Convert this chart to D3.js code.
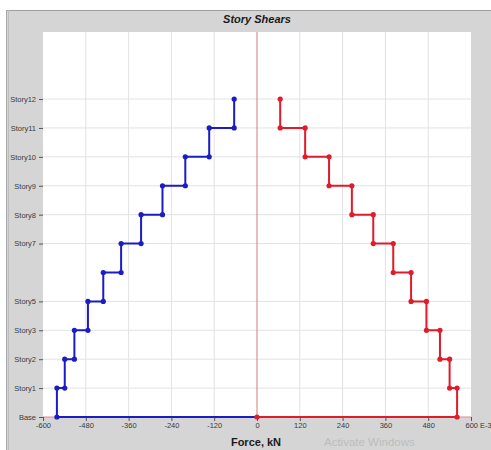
<!DOCTYPE html>
<html>
<head>
<meta charset="utf-8">
<script src="https://cdn.jsdelivr.net/npm/d3@7"></script>
<style>
  html, body { margin: 0; padding: 0; background: #ffffff; }
  svg { display: block; font-family: "Liberation Sans", Arial, sans-serif; }
</style>
</head>
<body>
<svg id="chart" width="491" height="450"></svg>
<script>
// ---- data ----
const storyNames = ["Base","Story1","Story2","Story3","Story5","Story6","Story7","Story8","Story9","Story10","Story11","Story12"];
const storyLevels = [0,1,2,3,4,5,6,7,8,9,10,11];
const yTickLabels = ["Base","Story1","Story2","Story3","Story5","Story7","Story8","Story9","Story10","Story11","Story12"];
// shear of each story (Story1 .. Story12), kN
const shearNeg = [-561,-539,-512,-474,-431,-381,-325,-265,-201,-134,-64];
const shearPos = [561,540,513,475,432,382,326,266,202,135,65];
const xTicks = [-600,-480,-360,-240,-120,0,120,240,360,480,600];
const xDomain = [-600, 600];
const yDomain = [0, 13.32];

const svg = d3.select("#chart");
const L = 43, R = 471, T = 32, B = 417;

// panel
svg.append("rect").attr("x", 6).attr("y", 10).attr("width", 485).attr("height", 440).attr("fill", "#d5d5d5");
svg.append("line").attr("x1", 6).attr("x2", 491).attr("y1", 10.5).attr("y2", 10.5).attr("stroke", "#9e9e9e");
svg.append("line").attr("x1", 6.5).attr("x2", 6.5).attr("y1", 10).attr("y2", 450).attr("stroke", "#a8a8a8");
svg.append("line").attr("x1", 8.5).attr("x2", 8.5).attr("y1", 10).attr("y2", 450).attr("stroke", "#bdbdbd");

svg.append("rect").attr("x", L).attr("y", T).attr("width", R - L).attr("height", B - T).attr("fill", "#ffffff");

const x = d3.scaleLinear().domain(xDomain).range([L, R]);
const y = d3.scaleLinear().domain(yDomain).range([B, T]);

const tickLevels = yTickLabels.map(n => storyLevels[storyNames.indexOf(n)]);

// grid
svg.append("g").selectAll("line.vg").data(xTicks.filter(d => d !== 0 && d !== 600 && d !== -600)).join("line")
  .attr("x1", d => x(d)).attr("x2", d => x(d)).attr("y1", T).attr("y2", B)
  .attr("stroke", "#e2e2e2").attr("stroke-width", 1);
svg.append("g").selectAll("line.hg").data(tickLevels.filter(d => d !== 0)).join("line")
  .attr("x1", L).attr("x2", R).attr("y1", d => y(d)).attr("y2", d => y(d))
  .attr("stroke", "#e2e2e2").attr("stroke-width", 1);

// zero lines
svg.append("line").attr("x1", x(0)).attr("x2", x(0)).attr("y1", T).attr("y2", B)
  .attr("stroke", "#d27a7a").attr("stroke-width", 1);
svg.append("line").attr("x1", L).attr("x2", R).attr("y1", y(0)).attr("y2", y(0))
  .attr("stroke", "#e08a8a").attr("stroke-width", 1);

// axes
const xAxis = d3.axisBottom(x).tickValues(xTicks).tickSize(4).tickPadding(2)
  .tickFormat(d => d === 600 ? "600 E-3" : String(d));
const gx = svg.append("g").attr("transform", `translate(0,${B})`).call(xAxis);
gx.select(".domain").remove();
gx.selectAll(".tick line").attr("stroke", "#555");
gx.selectAll(".tick text").attr("fill", "#3a3a3a").attr("font-size", 7.5);
gx.selectAll(".tick text").filter(d => d === 600).attr("text-anchor", "start").attr("dx", -6);

const yAxis = d3.axisLeft(y).tickValues(tickLevels).tickSize(4).tickPadding(3)
  .tickFormat(d => storyNames[storyLevels.indexOf(d)]);
const gy = svg.append("g").attr("transform", `translate(${L},0)`).call(yAxis);
gy.select(".domain").remove();
gy.selectAll(".tick line").attr("stroke", "#555");
gy.selectAll(".tick text").attr("fill", "#3a3a3a").attr("font-size", 7.5);

// step series
function stepPoints(vals) {
  const pts = [[0, storyLevels[0]]];
  vals.forEach((v, i) => {
    pts.push([v, storyLevels[i]]);
    pts.push([v, storyLevels[i + 1]]);
  });
  return pts;
}
const line = d3.line().x(d => x(d[0])).y(d => y(d[1]));

function drawSeries(vals, color, withOrigin) {
  const pts = stepPoints(vals);
  svg.append("path").datum(pts).attr("d", line).attr("fill", "none")
    .attr("stroke", color).attr("stroke-width", 2);
  const dots = withOrigin ? pts : pts.slice(1);
  svg.append("g").selectAll("circle").data(dots).join("circle")
    .attr("cx", d => x(d[0])).attr("cy", d => y(d[1])).attr("r", 2.6).attr("fill", color);
}
drawSeries(shearNeg, "#1c1cc4", false);
drawSeries(shearPos, "#e01c2a", true);

// titles
svg.append("text").attr("x", 257).attr("y", 23).attr("text-anchor", "middle")
  .attr("font-size", 11).attr("font-weight", "bold").attr("font-style", "italic").attr("fill", "#1a1a1a")
  .text("Story Shears");
svg.append("text").attr("x", 256).attr("y", 446).attr("text-anchor", "middle")
  .attr("font-size", 11).attr("font-weight", "bold").attr("fill", "#1a1a1a")
  .text("Force, kN");
svg.append("text").attr("x", 324).attr("y", 446)
  .attr("font-size", 11.5).attr("fill", "#bdbdbd")
  .text("Activate Windows");
</script>
</body>
</html>
